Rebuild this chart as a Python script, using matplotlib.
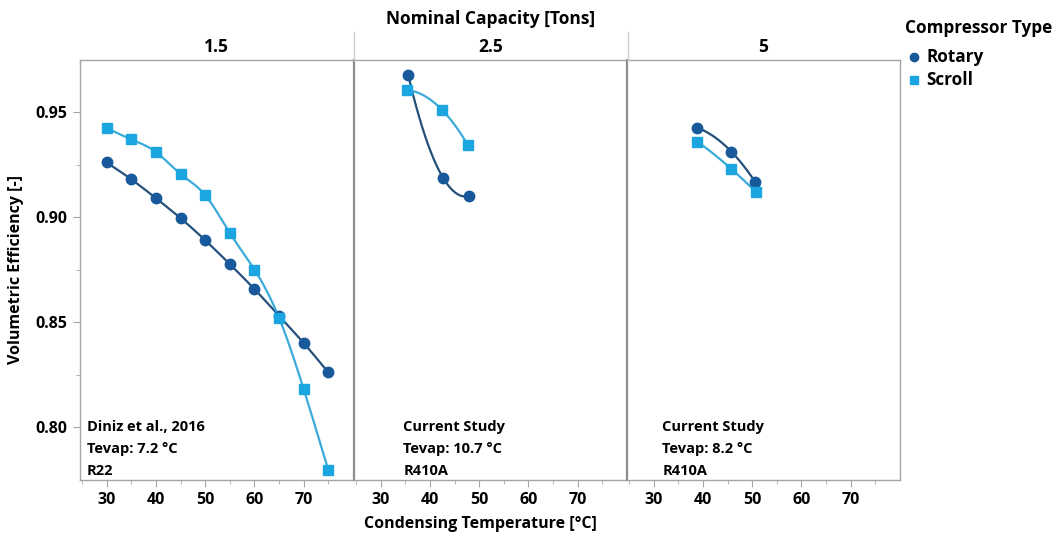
import numpy as np
import matplotlib.pyplot as plt
from matplotlib import ticker
from matplotlib.lines import Line2D

# capacities (facet headers)
capacities = ["1.5", "2.5", "5"]
notes = [
    "Diniz et al., 2016\nTevap: 7.2 °C\nR22",
    "Current Study\nTevap: 10.7 °C\nR410A",
    "Current Study\nTevap: 8.2 °C\nR410A",
]

# rotary compressor data per panel
rotary_x = [
    [30, 35, 40, 45, 50, 55, 60, 65, 70, 75],
    [35.6, 42.7, 48.0],
    [38.9, 45.8, 50.6],
]
rotary_y = [
    [0.926, 0.918, 0.909, 0.8995, 0.889, 0.8776, 0.8657, 0.853, 0.840, 0.826],
    [0.9676, 0.9186, 0.910],
    [0.9425, 0.9311, 0.9168],
]

# scroll compressor data per panel
scroll_x = [
    [30, 35, 40, 45, 50, 55, 60, 65, 70, 75],
    [35.3, 42.5, 47.7],
    [38.9, 45.8, 50.8],
]
scroll_y = [
    [0.9424, 0.937, 0.931, 0.9205, 0.9105, 0.8924, 0.875, 0.852, 0.818, 0.7795],
    [0.9605, 0.951, 0.9343],
    [0.9359, 0.9229, 0.9118],
]

ROT_MK = "#17599a"
ROT_LN = "#24507a"
SCR_MK = "#1ba6e2"
SCR_LN = "#3aaad8"
GRID = "#a6a6a6"

plt.rcParams["font.family"] = ["Open Sans", "DejaVu Sans"]
plt.rcParams["font.weight"] = "bold"


def natural_spline(x, y, n=200):
    # smooth curve through the points (natural cubic spline)
    x = np.asarray(x, float)
    y = np.asarray(y, float)
    k = len(x)
    if k == 3:
        # three points: a parabola through them looks like the original smoother
        c = np.polyfit(x, y, 2)
        xs = np.linspace(x[0], x[-1], n)
        return xs, np.polyval(c, xs)
    h = np.diff(x)
    A = np.zeros((k, k))
    b = np.zeros(k)
    A[0, 0] = A[-1, -1] = 1
    for i in range(1, k - 1):
        A[i, i - 1] = h[i - 1]
        A[i, i] = 2 * (h[i - 1] + h[i])
        A[i, i + 1] = h[i]
        b[i] = 6 * ((y[i + 1] - y[i]) / h[i] - (y[i] - y[i - 1]) / h[i - 1])
    m = np.linalg.solve(A, b)
    xs = np.linspace(x[0], x[-1], n)
    idx = np.clip(np.searchsorted(x, xs) - 1, 0, k - 2)
    x0, x1 = x[idx], x[idx + 1]
    hh = x1 - x0
    t0 = x1 - xs
    t1 = xs - x0
    ys = (m[idx] * t0**3 / (6 * hh) + m[idx + 1] * t1**3 / (6 * hh)
          + (y[idx] / hh - m[idx] * hh / 6) * t0
          + (y[idx + 1] / hh - m[idx + 1] * hh / 6) * t1)
    return xs, ys


W, H = 1057, 538
fig = plt.figure(figsize=(W / 100, H / 100), dpi=100)

lefts = [80, 354, 627]
note_x = [0.026, 0.18, 0.13]
pw = 273
top, bottom = 60, 480

for i in range(3):
    ax = fig.add_axes([lefts[i] / W, 1 - bottom / H, pw / W, (bottom - top) / H])
    xs, ys = natural_spline(rotary_x[i], rotary_y[i])
    ax.plot(xs, ys, color=ROT_LN, lw=1.6, zorder=2)
    ax.plot(rotary_x[i], rotary_y[i], "o", color=ROT_MK, ms=7.5, zorder=3)
    xs, ys = natural_spline(scroll_x[i], scroll_y[i])
    ax.plot(xs, ys, color=SCR_LN, lw=1.6, zorder=2)
    ax.plot(scroll_x[i], scroll_y[i], "s", color=SCR_MK, ms=6.5, zorder=3)

    ax.set_xlim(24.6, 80)
    ax.set_ylim(0.7748, 0.9748)
    ax.xaxis.set_major_locator(ticker.FixedLocator([30, 40, 50, 60, 70]))
    ax.xaxis.set_minor_locator(ticker.FixedLocator([25, 35, 45, 55, 65, 75]))
    ax.yaxis.set_major_locator(ticker.MultipleLocator(0.05))
    ax.yaxis.set_minor_locator(ticker.FixedLocator([0.825, 0.875, 0.925]))
    ax.yaxis.set_major_formatter(ticker.FormatStrFormatter("%.2f"))
    ax.tick_params(which="both", color=GRID, labelsize=11.5, pad=4)
    ax.tick_params(which="major", length=5)
    ax.tick_params(which="minor", length=3)
    for s in ["top", "bottom", "right"]:
        ax.spines[s].set_color(GRID)
        ax.spines[s].set_linewidth(1)
    ax.spines["left"].set_color("#8c8c8c" if i else GRID)
    ax.spines["left"].set_linewidth(1.6 if i else 1)
    if i < 2:
        ax.spines["right"].set_visible(False)
    if i > 0:
        ax.tick_params(axis="y", which="both", left=False, labelleft=False)
    else:
        ax.set_ylabel("Volumetric Efficiency [-]", fontsize=11.5, fontweight="bold", labelpad=8)

    ax.text(note_x[i], 0.142, notes[i], transform=ax.transAxes, fontsize=10.5,
            fontweight="bold", va="top", ha="left", linespacing=1.7)

    # facet header
    fig.text((lefts[i] + pw / 2) / W, 1 - 47 / H, capacities[i], ha="center",
             va="center", fontsize=12.5, fontweight="bold")

# header separators
for x in [353.5, 627.5]:
    fig.add_artist(Line2D([x / W, x / W], [1 - 60 / H, 1 - 32 / H], color="#cfcfcf", lw=1))

fig.text(491 / W, 1 - 19 / H, "Nominal Capacity [Tons]", ha="center", va="center",
         fontsize=12.5, fontweight="bold")
fig.text(480 / W, 1 - 524 / H, "Condensing Temperature [°C]", ha="center", va="center",
         fontsize=11.5, fontweight="bold")

# legend drawn by hand to keep the gap under the title
fig.text(905 / W, 1 - 28 / H, "Compressor Type", ha="left", va="center",
         fontsize=12.3, fontweight="bold")
for label, mk, col, ms, yy in [("Rotary", "o", ROT_MK, 6, 57), ("Scroll", "s", SCR_MK, 5.5, 80)]:
    fig.add_artist(Line2D([914 / W], [1 - yy / H], ls="", marker=mk, color=col, ms=ms))
    fig.text(926 / W, 1 - yy / H, label, ha="left", va="center",
             fontsize=12.3, fontweight="bold")

fig.savefig("out.png", dpi=100)
